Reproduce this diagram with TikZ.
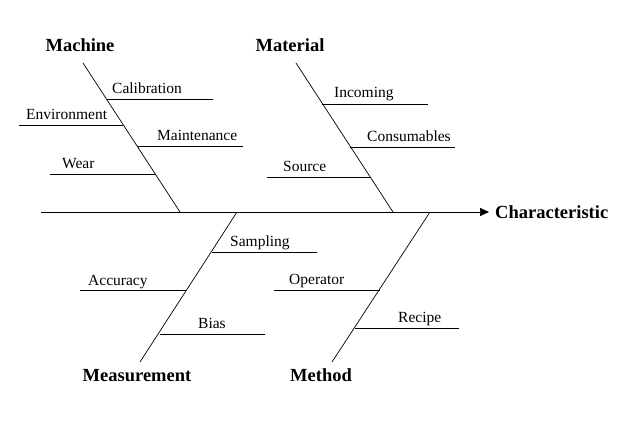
\documentclass[tikz,border=0pt]{standalone}
\usepackage{fontspec}
\setmainfont{Liberation Serif}
\usetikzlibrary{arrows.meta}
\tikzset{
  bone/.style={line width=0.7pt, black},
  cause/.style={font=\fontsize{18.5}{20}\selectfont\bfseries, inner sep=0pt},
  sub/.style={font=\fontsize{15.5}{17}\selectfont, inner sep=0pt, anchor=base west},
}
\begin{document}
\begin{tikzpicture}[x=1pt,y=-1pt]
\useasboundingbox (0,0) rectangle (624,436);
% spine
\coordinate (s0) at (41,212);
\coordinate (tip) at (489,212);
\node[cause, anchor=west] (char) at (495,212) {Characteristic};
\draw[bone,-{Triangle[length=9pt,width=8pt]}] (s0) -- (tip);
% cause labels
\node[cause] (mach) at (80,45) {Machine};
\node[cause] (mat) at (290,45) {Material};
\node[cause] (meas) at (137,376) {Measurement};
\node[cause] (meth) at (321,375) {Method};
% main bones
\coordinate (machT) at (83,63);   \coordinate (machB) at (180,212);
\coordinate (matT) at (296,63);   \coordinate (matB) at (393,212);
\coordinate (measT) at (237,212); \coordinate (measB) at (140,362);
\coordinate (methT) at (430,212); \coordinate (methB) at (332,362);
\draw[bone] (machT) -- (machB);
\draw[bone] (matT) -- (matB);
\draw[bone] (measT) -- (measB);
\draw[bone] (methT) -- (methB);
% Machine sub-causes
\coordinate (c1a) at (107,99);  \coordinate (c1b) at (213,99);
\coordinate (c2a) at (19,125);  \coordinate (c2b) at (123,125);
\coordinate (c3a) at (137,146); \coordinate (c3b) at (243,146);
\coordinate (c4a) at (50,174);  \coordinate (c4b) at (155,174);
\draw[bone] (c1a) -- (c1b); \draw[bone] (c2a) -- (c2b);
\draw[bone] (c3a) -- (c3b); \draw[bone] (c4a) -- (c4b);
\node[sub] (calib) at (112,93) {Calibration};
\node[sub] (env) at (26,119) {Environment};
\node[sub] (maint) at (157,140) {Maintenance};
\node[sub] (wear) at (62,168) {Wear};
% Material sub-causes
\coordinate (m1a) at (322,104); \coordinate (m1b) at (428,104);
\coordinate (m2a) at (350,147); \coordinate (m2b) at (455,147);
\coordinate (m3a) at (267,177); \coordinate (m3b) at (371,177);
\draw[bone] (m1a) -- (m1b); \draw[bone] (m2a) -- (m2b); \draw[bone] (m3a) -- (m3b);
\node[sub] (inc) at (334,98) {Incoming};
\node[sub] (cons) at (367,141) {Consumables};
\node[sub] (src) at (283,171) {Source};
% Measurement sub-causes
\coordinate (e1a) at (212,252); \coordinate (e1b) at (317,252);
\coordinate (e2a) at (80,290);  \coordinate (e2b) at (186,290);
\coordinate (e3a) at (160,334); \coordinate (e3b) at (265,334);
\draw[bone] (e1a) -- (e1b); \draw[bone] (e2a) -- (e2b); \draw[bone] (e3a) -- (e3b);
\node[sub] (samp) at (230,246) {Sampling};
\node[sub] (acc) at (88,285) {Accuracy};
\node[sub] (bias) at (198,328) {Bias};
% Method sub-causes
\coordinate (o1a) at (274,290); \coordinate (o1b) at (380,290);
\coordinate (o2a) at (355,328); \coordinate (o2b) at (459,328);
\draw[bone] (o1a) -- (o1b); \draw[bone] (o2a) -- (o2b);
\node[sub] (oper) at (289,284) {Operator};
\node[sub] (rec) at (398,322) {Recipe};
\end{tikzpicture}
\end{document}
